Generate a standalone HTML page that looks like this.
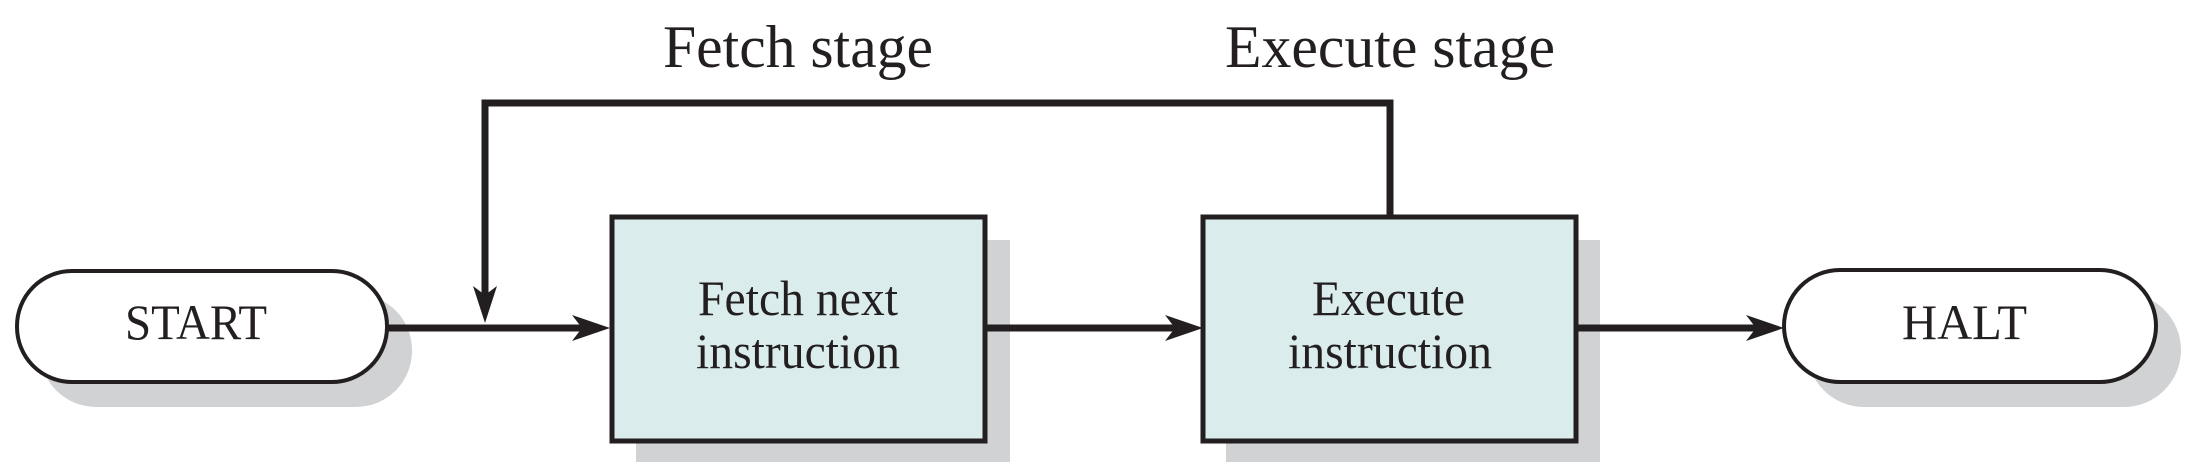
<!DOCTYPE html>
<html><head><meta charset="utf-8"><style>
html,body{margin:0;padding:0;background:#fff;}
svg{display:block;}
text{font-family:"Liberation Serif",serif;fill:#231f20;}
</style></head><body>
<svg width="2195" height="462" viewBox="0 0 2195 462" xmlns="http://www.w3.org/2000/svg">
<!-- shadows -->
<rect x="40" y="294" width="372" height="113" rx="56" fill="#d1d2d4"/>
<rect x="636" y="240" width="374" height="230" fill="#d1d2d4"/>
<rect x="1226" y="240" width="374" height="230" fill="#d1d2d4"/>
<rect x="1807" y="293" width="374" height="114" rx="57" fill="#d1d2d4"/>
<!-- start / halt -->
<rect x="17" y="271" width="370" height="111" rx="55" fill="#fff" stroke="#231f20" stroke-width="4"/>
<rect x="1784" y="270" width="372" height="112" rx="56" fill="#fff" stroke="#231f20" stroke-width="4"/>
<!-- boxes -->
<rect x="612" y="217" width="373" height="224" fill="#daecec" stroke="#231f20" stroke-width="5"/>
<rect x="1203" y="217" width="373" height="224" fill="#daecec" stroke="#231f20" stroke-width="5"/>
<!-- loop line -->
<polyline points="1390,215 1390,103 485,103 485,300" fill="none" stroke="#231f20" stroke-width="7"/>
<polygon points="473,286 485,295 497,286 485,323" fill="#231f20"/>
<!-- horizontal connectors -->
<line x1="387" y1="328" x2="590" y2="328" stroke="#231f20" stroke-width="7"/>
<polygon points="572,315 582,328 572,341 610,328" fill="#231f20"/>
<line x1="985" y1="328" x2="1180" y2="328" stroke="#231f20" stroke-width="7"/>
<polygon points="1165,315 1175,328 1165,341 1203,328" fill="#231f20"/>
<line x1="1576" y1="328" x2="1762" y2="328" stroke="#231f20" stroke-width="7"/>
<polygon points="1746,315 1756,328 1746,341 1784,328" fill="#231f20"/>
<!-- labels -->
<text x="663" y="67" font-size="60" textLength="270" lengthAdjust="spacingAndGlyphs">Fetch stage</text>
<text x="1225" y="67" font-size="60" textLength="330" lengthAdjust="spacingAndGlyphs">Execute stage</text>
<text x="125" y="339" font-size="50" textLength="142" lengthAdjust="spacingAndGlyphs">START</text>
<text x="1902" y="339" font-size="50" textLength="125" lengthAdjust="spacingAndGlyphs">HALT</text>
<text x="698" y="315" font-size="50" textLength="200" lengthAdjust="spacingAndGlyphs">Fetch next</text>
<text x="696" y="368" font-size="50" textLength="204" lengthAdjust="spacingAndGlyphs">instruction</text>
<text x="1312" y="315" font-size="50" textLength="153" lengthAdjust="spacingAndGlyphs">Execute</text>
<text x="1288" y="368" font-size="50" textLength="204" lengthAdjust="spacingAndGlyphs">instruction</text>
</svg>
</body></html>
